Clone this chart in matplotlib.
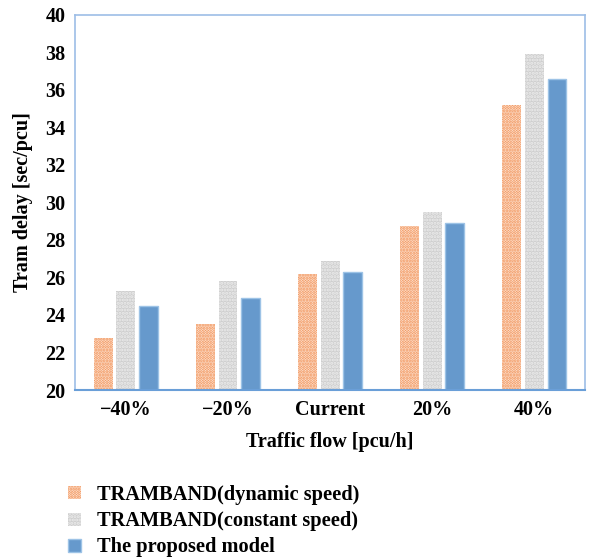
import numpy as np
import matplotlib
matplotlib.use("Agg")
import matplotlib.pyplot as plt

# Data
categories = ["\u221240%", "\u221220%", "Current", "20%", "40%"]
dynamic_speed = [22.8, 23.5, 26.2, 28.75, 35.2]
constant_speed = [25.3, 25.8, 26.9, 29.5, 37.9]
proposed_model = [24.5, 24.9, 26.3, 28.9, 36.6]
series_names = ["TRAMBAND(dynamic speed)", "TRAMBAND(constant speed)", "The proposed model"]
y_ticks = list(range(20, 42, 2))

plt.rcParams['font.family'] = ['Liberation Serif', 'DejaVu Serif']
plt.rcParams['font.weight'] = 'bold'
plt.rcParams['hatch.linewidth'] = 1.5

fig = plt.figure(figsize=(5.89, 5.59), dpi=100)
ax = fig.add_axes([0.1273, 0.3023, 0.866, 0.671])

x = np.arange(len(categories))
w = 0.186
step = 0.225

b1 = ax.bar(x - step, dynamic_speed, w, facecolor='#fff1e8',
            edgecolor='#f08a4b', hatch='......', linewidth=0)
b2 = ax.bar(x, constant_speed, w, facecolor='#cfcfcf',
            edgecolor='#ececec', hatch='.....', linewidth=0)
b3 = ax.bar(x + step, proposed_model, w, facecolor='#6699cc',
            edgecolor='#9dc3e6', linewidth=1)

ax.set_ylim(20, 40)
ax.set_xlim(-0.5, len(categories) - 0.5)
ax.set_yticks(y_ticks)
ax.set_xticks(x)
ax.set_xticklabels(categories)
ax.tick_params(length=0, labelsize=14.5, pad=7)
for lab in ax.get_xticklabels() + ax.get_yticklabels():
    lab.set_fontweight('bold')

for side in ['top', 'right', 'left']:
    ax.spines[side].set_color('#9dbde6')
    ax.spines[side].set_linewidth(1.2)
ax.spines['bottom'].set_color('#6a9fd8')
ax.spines['bottom'].set_linewidth(1.5)

ax.set_xlabel("Traffic flow [pcu/h]", fontsize=14.5, fontweight='bold', labelpad=9)
ax.set_ylabel("Tram delay [sec/pcu]", fontsize=14.5, fontweight='bold', labelpad=9)

fig.legend([b1, b2, b3], series_names, loc='upper left',
           bbox_to_anchor=(0.085, 0.165), frameon=False,
           handlelength=0.6, handleheight=0.6, handletextpad=0.8,
           labelspacing=0.3, prop={'weight': 'bold', 'size': 14.7})

fig.savefig("out.png", dpi=100)
